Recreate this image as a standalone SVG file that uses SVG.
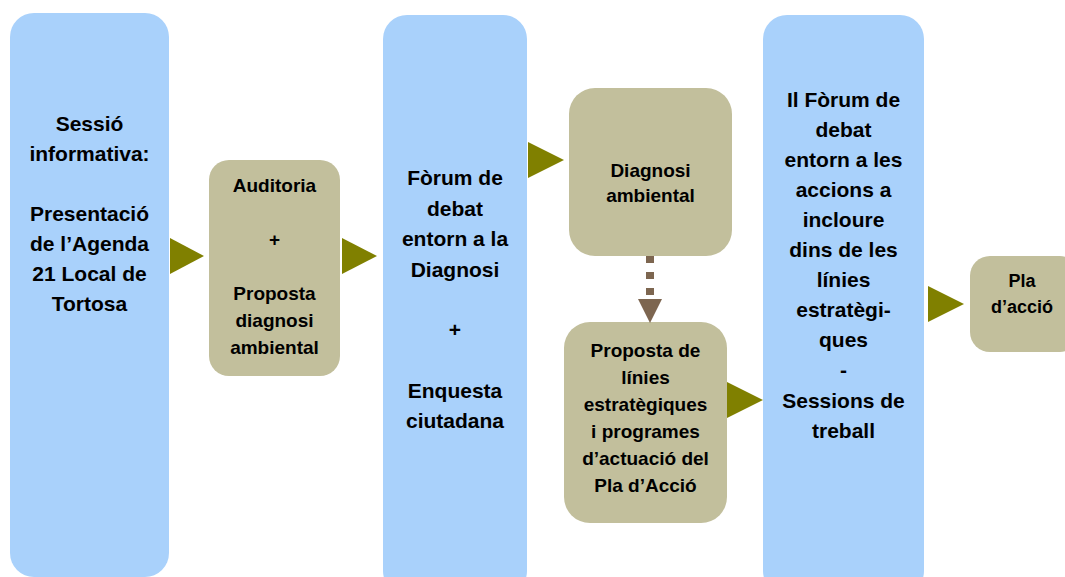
<svg xmlns="http://www.w3.org/2000/svg" width="1065" height="577" viewBox="0 0 1065 577">
<defs>
<style>
.blue{fill:#a9d1fb;}
.tan{fill:#c2bf9c;}
.arr{fill:#808000;}
text{font-family:"Liberation Sans",Arial,sans-serif;font-weight:bold;fill:#000;text-anchor:middle;}
.t21{font-size:21px;}
.t19{font-size:19px;}
.t18{font-size:18px;}
</style>
</defs>
<rect width="1065" height="577" fill="#ffffff"/>
<g id="n1">
<rect class="blue" x="10" y="13" width="159" height="564" rx="24"/>
<text class="t21"><tspan x="89.5" y="131">Sessió</tspan><tspan x="89.5" y="161">informativa:</tspan><tspan x="89.5" y="221">Presentació</tspan><tspan x="89.5" y="251">de l’Agenda</tspan><tspan x="89.5" y="281">21 Local de</tspan><tspan x="89.5" y="311">Tortosa</tspan></text>
</g>
<g id="n2">
<rect class="tan" x="209" y="160" width="131" height="216" rx="20"/>
<text class="t19"><tspan x="274.5" y="192">Auditoria</tspan><tspan x="274.5" y="246">+</tspan><tspan x="274.5" y="300">Proposta</tspan><tspan x="274.5" y="327">diagnosi</tspan><tspan x="274.5" y="354">ambiental</tspan></text>
</g>
<g id="n3">
<rect class="blue" x="383" y="15" width="144" height="580" rx="24"/>
<text class="t21"><tspan x="455" y="185">Fòrum de</tspan><tspan x="455" y="215.5">debat</tspan><tspan x="455" y="246">entorn a la</tspan><tspan x="455" y="276.5">Diagnosi</tspan><tspan x="455" y="337">+</tspan><tspan x="455" y="398">Enquesta</tspan><tspan x="455" y="428">ciutadana</tspan></text>
</g>
<g id="n4">
<rect class="tan" x="569" y="88" width="163" height="168" rx="26"/>
<text class="t19"><tspan x="650.5" y="177">Diagnosi</tspan><tspan x="650.5" y="202">ambiental</tspan></text>
</g>
<g id="n5">
<rect class="tan" x="564" y="322" width="163" height="201" rx="26"/>
<text class="t19"><tspan x="645.5" y="357">Proposta de</tspan><tspan x="645.5" y="384">línies</tspan><tspan x="645.5" y="411">estratègiques</tspan><tspan x="645.5" y="438">i programes</tspan><tspan x="645.5" y="465">d’actuació del</tspan><tspan x="645.5" y="492">Pla d’Acció</tspan></text>
</g>
<g id="n6">
<rect class="blue" x="763" y="15" width="161" height="580" rx="24"/>
<text class="t21"><tspan x="843.5" y="107">Il Fòrum de</tspan><tspan x="843.5" y="137">debat</tspan><tspan x="843.5" y="167">entorn a les</tspan><tspan x="843.5" y="197">accions a</tspan><tspan x="843.5" y="227">incloure</tspan><tspan x="843.5" y="257">dins de les</tspan><tspan x="843.5" y="287">línies</tspan><tspan x="843.5" y="317">estratègi-</tspan><tspan x="843.5" y="347">ques</tspan><tspan x="843.5" y="377">-</tspan><tspan x="843.5" y="408">Sessions de</tspan><tspan x="843.5" y="438">treball</tspan></text>
</g>
<g id="n7">
<rect class="tan" x="970" y="256" width="110" height="96" rx="20"/>
<text class="t18"><tspan x="1022" y="287">Pla</tspan><tspan x="1022" y="313">d’acció</tspan></text>
</g>
<g id="connectors">
<polygon class="arr" points="170,238 204,256 170,274"/>
<polygon class="arr" points="342,238 377,256 342,274"/>
<polygon class="arr" points="528,142 564,160 528,178"/>
<polygon class="arr" points="727,382 763,400 727,418"/>
<polygon class="arr" points="928,286 964,304 928,322"/>
<line x1="650" y1="256" x2="650" y2="296" stroke="#7d6650" stroke-width="8" stroke-dasharray="7,9"/>
<polygon points="638,299 662,299 650,323" fill="#7d6650"/>
</g>
</svg>
